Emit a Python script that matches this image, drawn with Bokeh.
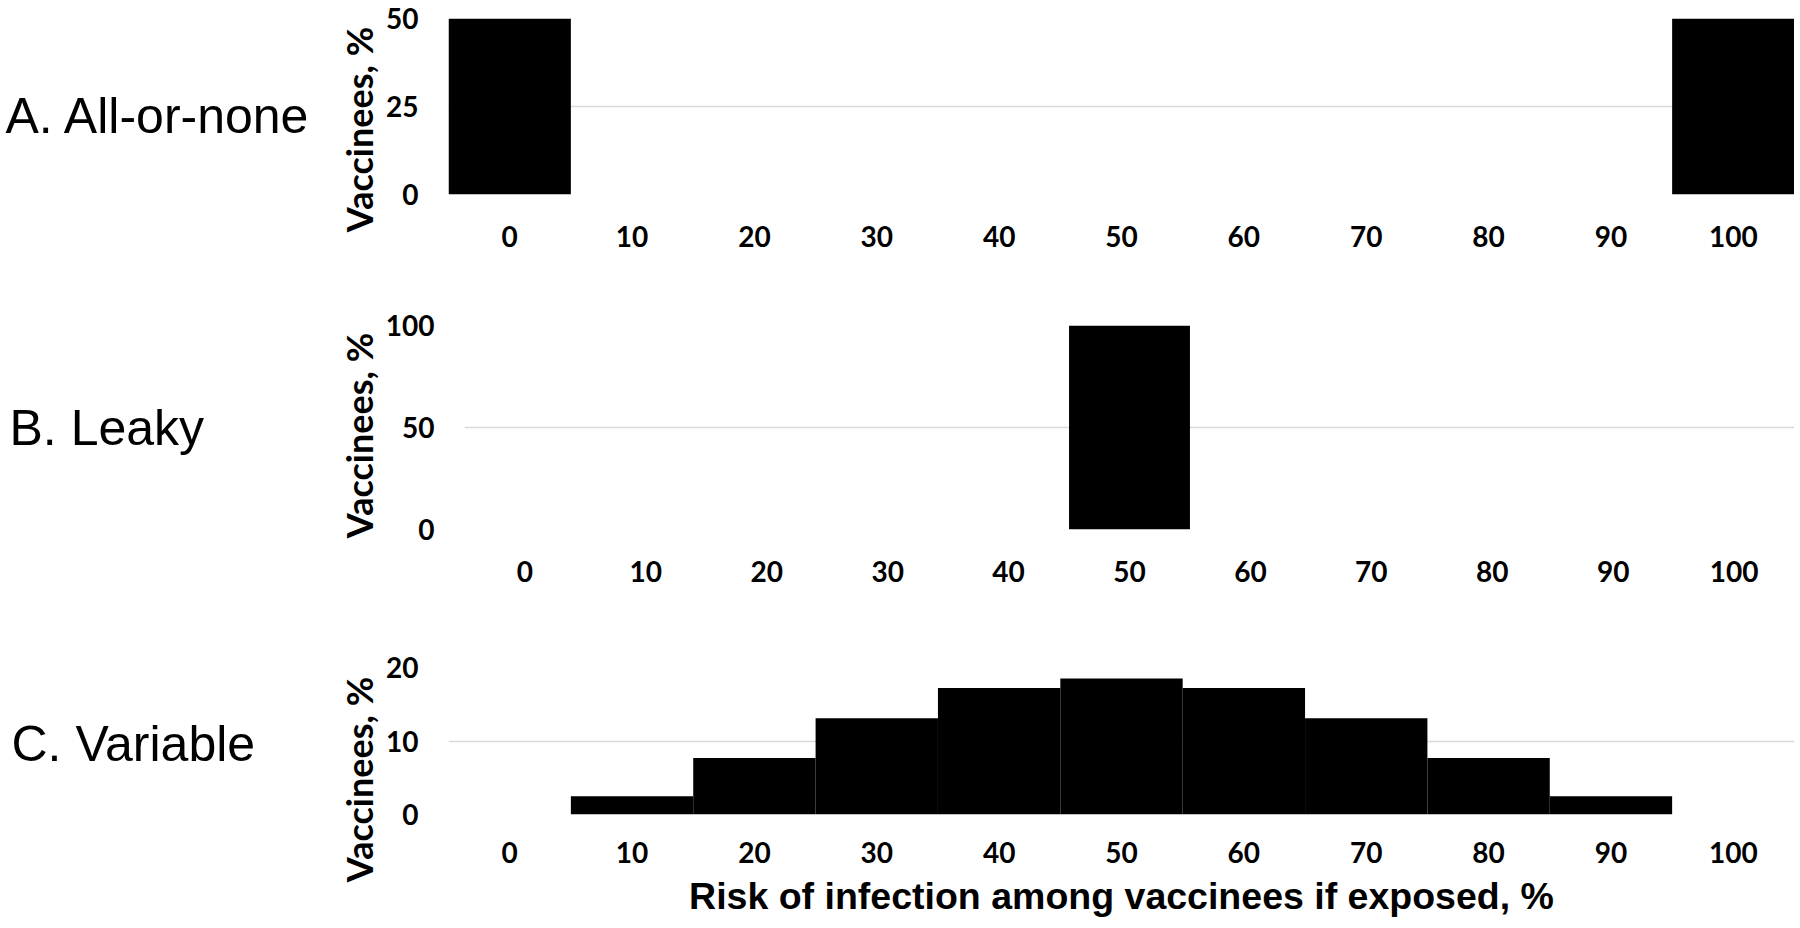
from bokeh.plotting import figure
from bokeh.models import Range1d, FixedTicker, LinearAxis
from bokeh.layouts import column, row
from bokeh.embed import file_html
from bokeh.resources import INLINE

# ---- data ----
risk = [0, 10, 20, 30, 40, 50, 60, 70, 80, 90, 100]
all_or_none = [50, 0, 0, 0, 0, 0, 0, 0, 0, 0, 50]
leaky = [0, 0, 0, 0, 0, 100, 0, 0, 0, 0, 0]
variable = [0, 2.5, 7.7, 13.1, 17.2, 18.5, 17.2, 13.1, 7.7, 2.5, 0]
panel_titles = ["A. All-or-none", "B. Leaky", "C. Variable"]
y_ticks_a = [0, 25, 50]
y_ticks_b = [0, 50, 100]
y_ticks_c = [0, 10, 20]
x_ticks = risk
x_title = "Risk of infection among vaccinees if exposed, %"
y_title = "Vaccinees, %"

GRID = "#d9d9d9"
TICK_FONT = "Lato"
T_W = 312          # width of the title strip
V_W = 69           # width of the y-title strip
PLOT_RIGHT = 1794  # right edge of the plot areas


def bare(width, height, top, bottom, left, right):
    f = figure(width=width, height=height, output_backend="svg", toolbar_location=None,
               title=None, x_axis_location=None, y_axis_location=None,
               x_range=Range1d(0, 1), y_range=Range1d(0, 1), tools="",
               min_border_left=left, min_border_right=right,
               min_border_top=top, min_border_bottom=bottom)
    f.grid.visible = False
    f.outline_line_color = None
    f.background_fill_color = "white"
    f.border_fill_color = "white"
    return f


def empty_axis(**kw):
    return LinearAxis(ticker=FixedTicker(ticks=[]), axis_line_color=None,
                      major_tick_line_color=None, minor_tick_line_color=None,
                      major_tick_out=0, major_tick_in=0, minor_tick_out=0,
                      major_label_standoff=0, major_label_text_font_size="0px", **kw)


def title_strip(height, title, top, bottom, standoff):
    t = bare(T_W, height, top, bottom, 0, T_W - 1)
    t.add_layout(empty_axis(axis_label=title, axis_label_orientation="horizontal",
                            axis_label_text_font="Liberation Sans",
                            axis_label_text_font_style="normal",
                            axis_label_text_font_size="50px",
                            axis_label_text_color="black",
                            axis_label_standoff=standoff), "right")
    return column(t, spacing=0)


def ytitle_strip(height, top, bottom):
    v = bare(V_W, height, top, bottom, V_W - 1, 0)
    v.add_layout(empty_axis(axis_label=y_title, axis_label_text_font=TICK_FONT,
                            axis_label_text_font_style="bold",
                            axis_label_text_font_size="36px",
                            axis_label_text_color="black",
                            axis_label_standoff=0), "left")
    return column(v, spacing=0)


def panel(values, yticks, height, top, frame_h, frame_left, xlab_standoff, show_xtitle=False):
    bottom = height - top - frame_h
    start = T_W + V_W
    p = figure(width=PLOT_RIGHT - start, height=height, output_backend="svg",
               toolbar_location=None, title=None,
               x_range=Range1d(-5, 105), y_range=Range1d(yticks[0], yticks[-1]),
               min_border_left=frame_left - start, min_border_right=0,
               min_border_top=top, min_border_bottom=bottom, tools="")
    p.outline_line_color = None
    p.background_fill_color = "white"
    p.border_fill_color = "white"
    p.xgrid.visible = False
    p.ygrid.grid_line_color = GRID
    p.ygrid.grid_line_width = 1.3
    p.ygrid.ticker = FixedTicker(ticks=yticks)
    p.vbar(x=risk, top=values, bottom=0, width=10, fill_color="black", line_color=None)

    xa = p.xaxis[0]
    xa.ticker = FixedTicker(ticks=x_ticks)
    xa.axis_line_color = None
    xa.major_tick_line_color = None
    xa.minor_tick_line_color = None
    xa.major_tick_out = 0
    xa.major_tick_in = 0
    xa.minor_tick_out = 0
    xa.major_label_text_font = TICK_FONT
    xa.major_label_text_font_style = "bold"
    xa.major_label_text_font_size = "28px"
    xa.major_label_text_color = "black"
    xa.major_label_standoff = xlab_standoff
    if show_xtitle:
        xa.axis_label = x_title
        xa.axis_label_text_font = "Liberation Sans"
        xa.axis_label_text_font_style = "bold"
        xa.axis_label_text_font_size = "37.5px"
        xa.axis_label_text_color = "black"
        xa.axis_label_standoff = 9

    ya = p.yaxis[0]
    ya.ticker = FixedTicker(ticks=yticks)
    ya.axis_line_color = None
    ya.major_tick_line_color = None
    ya.minor_tick_line_color = None
    ya.major_tick_out = 0
    ya.major_tick_in = 0
    ya.minor_tick_out = 0
    ya.major_label_text_font = TICK_FONT
    ya.major_label_text_font_style = "bold"
    ya.major_label_text_font_size = "28px"
    ya.major_label_text_color = "black"
    ya.major_label_standoff = 30
    return p


HA, HB, HC = 300, 320, 306

row_a = row(title_strip(HA, panel_titles[0], 18, 88, 5),
            ytitle_strip(HA, 28, 70),
            panel(all_or_none, y_ticks_a, HA, 18, 176, 448, 31), spacing=0)
row_b = row(title_strip(HB, panel_titles[1], 25, 91, 8),
            ytitle_strip(HB, 30, 80),
            panel(leaky, y_ticks_b, HB, 25, 204, 464, 31), spacing=0)
row_c = row(title_strip(HC, panel_titles[2], 47, 107, 10),
            ytitle_strip(HC, 53, 41),
            panel(variable, y_ticks_c, HC, 47, 147, 448, 27, show_xtitle=True), spacing=0)

layout = column(row_a, row_b, row_c, spacing=0)
open("out.html", "w").write(file_html(layout, INLINE))
